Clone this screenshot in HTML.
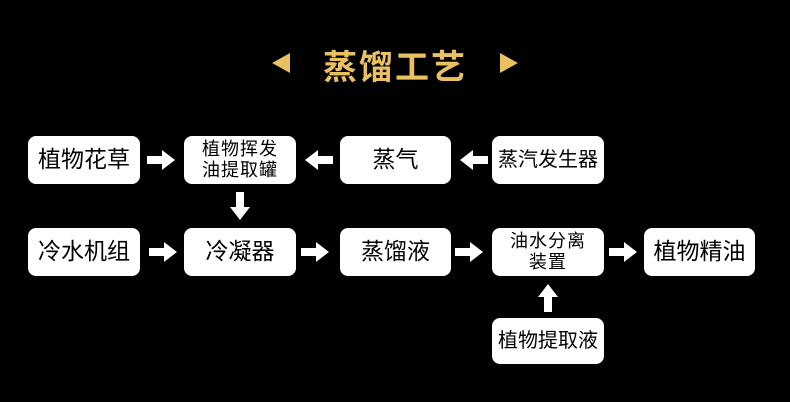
<!DOCTYPE html>
<html><head><meta charset="utf-8"><style>
body{margin:0;width:790px;height:402px;background:#000;position:relative;overflow:hidden;font-family:"Liberation Sans","Noto Sans CJK SC",sans-serif}
.b{position:absolute;background:#fff;border-radius:8px;display:flex;align-items:center;justify-content:center;text-align:center;color:#000;font-size:23px;line-height:1.1}
.s{font-size:18px;line-height:1.15;letter-spacing:1px}
svg{position:absolute;left:0;top:0}
.t{position:absolute;left:0;width:790px;top:40px;text-align:center;color:#e9c062;font-size:34px;font-weight:bold;letter-spacing:2px}
</style></head><body>
<div class="t">蒸馏工艺</div>
<svg width="790" height="402">
<polygon points="272,63 290,53 290,73" fill="#e9c062"/>
<polygon points="518,63 500,53 500,73" fill="#e9c062"/>
<g fill="#fff">
<polygon points="147,156 162,156 162,150 175,160 162,170 162,164 147,164"/>
<polygon points="333,156 318,156 318,150 305,160 318,170 318,164 333,164"/>
<polygon points="488,156 473,156 473,150 460,160 473,170 473,164 488,164"/>
<polygon points="236,192 244,192 244,207 250,207 240,220 230,207 236,207"/>
<polygon points="149,248 164,248 164,242 177,252 164,262 164,256 149,256"/>
<polygon points="301,248 316,248 316,242 329,252 316,262 316,256 301,256"/>
<polygon points="455,248 470,248 470,242 483,252 470,262 470,256 455,256"/>
<polygon points="609,248 624,248 624,242 637,252 624,262 624,256 609,256"/>
<polygon points="544,312 552,312 552,297 558,297 548,284 538,297 544,297"/>
</g></svg>
<div class="b" style="left:28px;top:136px;width:112px;height:48px">植物花草</div>
<div class="b s" style="left:184px;top:136px;width:112px;height:48px">植物挥发<br>油提取罐</div>
<div class="b" style="left:340px;top:136px;width:111px;height:48px">蒸气</div>
<div class="b" style="left:492px;top:136px;width:112px;height:48px;font-size:20px">蒸汽发生器</div>
<div class="b" style="left:28px;top:228px;width:112px;height:48px">冷水机组</div>
<div class="b" style="left:184px;top:228px;width:112px;height:48px">冷凝器</div>
<div class="b" style="left:340px;top:228px;width:111px;height:48px">蒸馏液</div>
<div class="b s" style="left:492px;top:228px;width:112px;height:48px">油水分离<br>装置</div>
<div class="b" style="left:644px;top:228px;width:111px;height:48px">植物精油</div>
<div class="b" style="left:492px;top:318px;width:112px;height:46px;font-size:20px">植物提取液</div>
</body></html>
